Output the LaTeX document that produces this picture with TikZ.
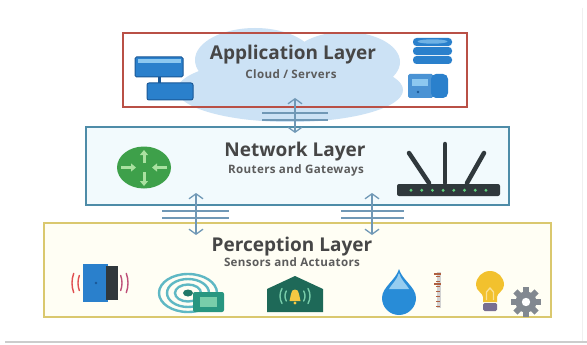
\documentclass[tikz,border=0pt]{standalone}
\usepackage{fontspec}
\setmainfont{Open Sans}
\newfontfamily\spacedfont{Open Sans}[LetterSpace=3]
\usetikzlibrary{arrows.meta}

\definecolor{appred}{RGB}{185,80,70}
\definecolor{netblue}{RGB}{78,140,168}
\definecolor{netfill}{RGB}{242,250,253}
\definecolor{percyellow}{RGB}{218,200,110}
\definecolor{percfill}{RGB}{255,254,244}
\definecolor{cloudblue}{RGB}{204,226,245}
\definecolor{linkblue}{RGB}{112,152,182}
\definecolor{titlegray}{RGB}{70,70,70}
\definecolor{subgray}{RGB}{92,92,92}
\definecolor{iconblue}{RGB}{42,128,204}
\definecolor{icondark}{RGB}{26,88,150}
\definecolor{iconlight}{RGB}{140,200,240}
\definecolor{routergreen}{RGB}{62,160,74}
\definecolor{arrowgreen}{RGB}{170,225,160}
\definecolor{wifidark}{RGB}{48,56,60}
\definecolor{ledgreen}{RGB}{95,208,122}
\definecolor{sensred}{RGB}{224,80,80}
\definecolor{senspurple}{RGB}{190,80,120}
\definecolor{ringteal}{RGB}{95,184,196}
\definecolor{chipgreen}{RGB}{40,150,128}
\definecolor{chiplight}{RGB}{120,205,170}
\definecolor{housegreen}{RGB}{30,105,88}
\definecolor{bellyellow}{RGB}{245,200,66}
\definecolor{dropblue}{RGB}{40,140,215}
\definecolor{droplight}{RGB}{150,205,240}
\definecolor{rulerred}{RGB}{176,96,64}
\definecolor{bulbyellow}{RGB}{242,193,46}
\definecolor{basepurple}{RGB}{120,110,145}
\definecolor{geargray}{RGB}{130,136,144}

\tikzset{
  layerbox/.style={rectangle, inner sep=0pt, line width=1.8pt},
  appbox/.style={layerbox, draw=appred, line width=1.6pt},
  netbox/.style={layerbox, draw=netblue, fill=netfill},
  percbox/.style={layerbox, draw=percyellow, fill=percfill},
  title/.style={font=\bfseries\fontsize{19}{21}\selectfont, text=titlegray, inner sep=0pt, anchor=base},
  subtitle/.style={font=\spacedfont\bfseries\fontsize{11.6}{13}\selectfont, text=subgray, inner sep=0pt, anchor=base},
  link/.style={draw=linkblue, line width=1.3pt,
    {Straight Barb[length=5pt,width=14pt]}-{Straight Barb[length=5pt,width=14pt]}},
  bus/.style={draw=linkblue, line width=1.3pt},
  wave/.style={line width=1.4pt, line cap=round},
  antenna/.style={draw=wifidark, line width=4.5pt, line cap=round},
  greenarrow/.style={draw=arrowgreen, line width=3pt, -{Triangle[length=5pt,width=8pt]}},
}

\begin{document}
\begin{tikzpicture}[x=1pt,y=-1pt]
\useasboundingbox (0,0) rectangle (587,345);
\fill[white] (0,0) rectangle (587,345);

% page edges
\draw[gray!40, line width=1.4pt] (5,342) -- (587,342);
\draw[gray!12, line width=1pt] (582,8) -- (582,341);

% cloud behind the application layer
\fill[cloudblue] (290,90) ellipse (113 and 32)
                 (255,60) ellipse (60 and 32)
                 (345,62) ellipse (55 and 30);

% layer boxes
\node[appbox, minimum width=344pt, minimum height=74pt] (app) at (295,70) {};
\node[netbox, minimum width=423pt, minimum height=78pt] (net) at (297.5,166) {};
\node[percbox, minimum width=507pt, minimum height=94pt] (perc) at (297.5,270) {};

% titles
\node[title] (apptitle) at (293,60) {Application Layer};
\node[subtitle] (appsub) at (291,79) {Cloud / Servers};
\node[title] (nettitle) at (295,157) {Network Layer};
\node[subtitle] (netsub) at (296,173) {Routers and Gateways};
\node[title] (perctitle) at (292,251) {Perception Layer};
\node[subtitle] (percsub) at (292,266) {Sensors and Actuators};

% connectors between layers
\coordinate (an1) at (295,98);
\coordinate (an2) at (295,133);
\coordinate (np1) at (196,193);
\coordinate (np2) at (196,235);
\coordinate (np3) at (372,193);
\coordinate (np4) at (372,235);
\path[link] (an1) -- (an2);
\path[link] (np1) -- (np2);
\path[link] (np3) -- (np4);
\coordinate (ab1) at (262,113); \coordinate (ab2) at (328,113);
\coordinate (ab3) at (262,120); \coordinate (ab4) at (328,120);
\path[bus] (ab1) -- (ab2) (ab3) -- (ab4);
\coordinate (lb1) at (162,211); \coordinate (lb2) at (229,211);
\coordinate (lb3) at (162,218); \coordinate (lb4) at (229,218);
\path[bus] (lb1) -- (lb2) (lb3) -- (lb4);
\coordinate (rb1) at (341,211); \coordinate (rb2) at (404,211);
\coordinate (rb3) at (341,218); \coordinate (rb4) at (404,218);
\path[bus] (rb1) -- (rb2) (rb3) -- (rb4);

% --- application layer icons ---
% client computer
\draw[fill=iconblue, draw=icondark, line width=1pt, rounded corners=1.5pt] (135,57) rectangle (183,77);
\fill[iconlight] (137.5,59.5) rectangle (180.5,63);
\fill[icondark] (158,77) rectangle (161,83);
\draw[fill=iconblue, draw=icondark, line width=1pt, rounded corners=2pt] (147,83) rectangle (193,100);
% database
\foreach \i in {0,1,2}
  \fill[iconblue, rounded corners=3.5pt] (413,{38+9*\i}) rectangle (452,{46+9*\i});
\fill[iconlight!70!iconblue] (432.5,41.5) ellipse (15 and 2.2);
% server
\fill[iconblue!85!white, rounded corners=1.5pt] (408,74) rectangle (433,98);
\fill[iconblue, rounded corners=5pt] (431,74) rectangle (448,98);
\fill[iconlight] (412,79) rectangle (428,86);
\fill[icondark] (418,92) circle (1.4);

% --- network layer icons ---
% router
\fill[routergreen] (144,167.5) ellipse (27 and 21);
\path[greenarrow] (144,163) -- (144,150);
\path[greenarrow] (144,172) -- (144,186);
\path[greenarrow] (121,167.5) -- (136,167.5);
\path[greenarrow] (167,167.5) -- (152,167.5);
% wireless gateway
\path[antenna] (409,153) -- (429,183);
\path[antenna] (445,144) -- (445,183);
\path[antenna] (484,153) -- (467,183);
\fill[wifidark, rounded corners=2pt] (397,184) rectangle (500,196);
\foreach \k in {0,...,7}
  \fill[ledgreen] ({411+10.7*\k},190.3) circle (1.6);

% --- perception layer icons ---
% door sensor
\fill[iconblue] (83,264) rectangle (108,302);
\fill[wifidark] (106,266) rectangle (118,300);
\fill[icondark] (96,283) circle (1.3);
\draw[wave, sensred] ([shift={(200:22)}]100,283) arc (200:160:22);
\draw[wave, sensred] ([shift={(200:28)}]100,283) arc (200:160:28);
\draw[wave, senspurple] ([shift={(-20:22)}]100,283) arc (-20:20:22);
\draw[wave, senspurple] ([shift={(-20:28)}]100,283) arc (-20:20:28);
% proximity sensor
\draw[ringteal, line width=2.4pt] (188,293) ellipse (29 and 19);
\draw[ringteal, line width=2.4pt] (188,293) ellipse (21 and 14);
\draw[ringteal, line width=2.4pt] (188,293) ellipse (13 and 8.5);
\fill[chipgreen!80!black] (188,293) ellipse (5 and 3.5);
\fill[chipgreen, rounded corners=2pt] (193,292) rectangle (224,312);
\fill[chiplight] (200,297) rectangle (217,307);
% alarm house
\fill[housegreen] (267,312) -- (267,289) -- (295,276) -- (323,289) -- (323,312) -- cycle;
\fill[bellyellow] (289.5,301) -- (291,294) .. controls (291,288) and (299,288) .. (299,294) -- (300.5,301) -- cycle;
\fill[bellyellow] (295,303) circle (1.6);
\draw[wave, chiplight] ([shift={(210:10)}]295,296) arc (210:150:10);
\draw[wave, chiplight] ([shift={(210:15)}]295,296) arc (210:150:15);
\draw[wave, chiplight] ([shift={(-30:10)}]295,296) arc (-30:30:10);
\draw[wave, chiplight] ([shift={(-30:15)}]295,296) arc (-30:30:15);
% water level sensor
\fill[dropblue] (399,269) .. controls (402,280) and (416,287) .. (416,298)
  arc (0:180:17) .. controls (382,287) and (396,280) .. (399,269) -- cycle;
\fill[droplight] (399,273) .. controls (401,280) and (407,285) .. (409,289)
  -- (389,289) .. controls (391,285) and (397,280) .. (399,273) -- cycle;
\fill[gray!35] (437,272) rectangle (441,308);
\foreach \t in {276,281,...,306}
  \draw[rulerred, line width=0.9pt] (436,\t) -- (440,\t);
\draw[rulerred, line width=1.4pt] (434,274) -- (441,274) (434,284) -- (441,284);
% smart light
\fill[bulbyellow] (483,302) -- (483,297) .. controls (483,293) and (476,291) .. (476,285)
  arc (180:360:14) .. controls (504,291) and (497,293) .. (497,297) -- (497,302) -- cycle;
\draw[bulbyellow!50!white, line width=1.3pt] (486.5,300) -- (486.5,292) -- (490,288) -- (493.5,292) -- (493.5,300);
\fill[basepurple, rounded corners=1.5pt] (483,303) rectangle (497,311);
\foreach \a in {0,45,...,315}
  \fill[geargray, rotate around={\a:(526,302)}] (523,287) rectangle (529,293);
\fill[geargray] (526,302) circle (10.5);
\fill[white] (526,302) circle (4.2);
\end{tikzpicture}
\end{document}
